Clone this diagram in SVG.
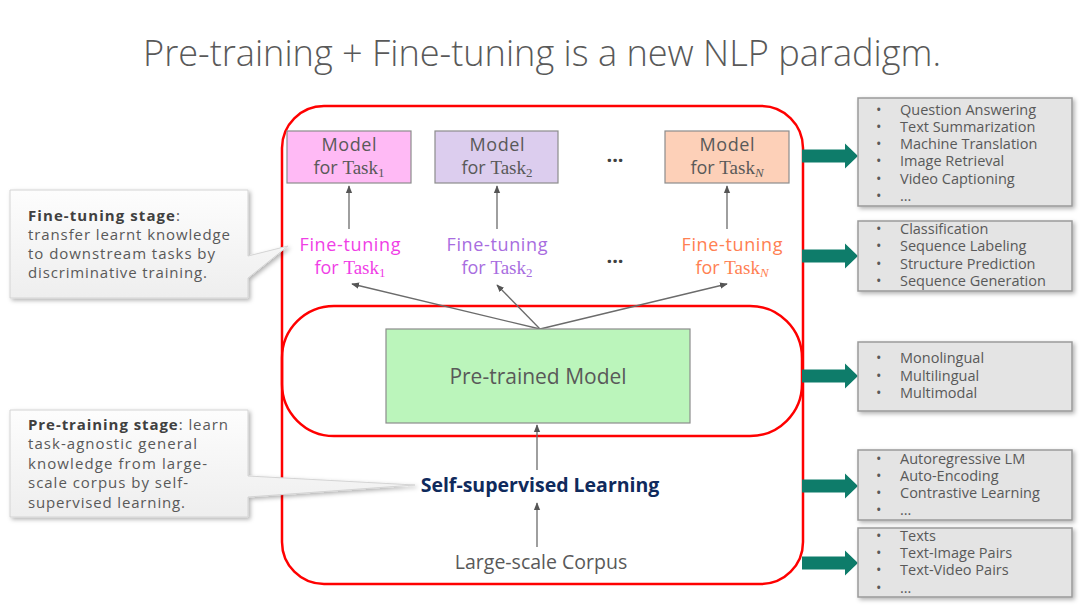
<svg xmlns="http://www.w3.org/2000/svg" width="1080" height="605" viewBox="0 0 1080 605">
<defs>
<style>
.t{font-family:"Open Sans","Noto Sans",sans-serif;fill:#595959}
.title{font-family:"Open Sans","Noto Sans",sans-serif;font-weight:300;font-size:36px;fill:#595959}
.mt{font-size:18px;text-anchor:middle}
.sr{font-family:"Liberation Serif",serif;font-size:19px}
.sub{font-family:"Liberation Serif",serif;font-size:13px}
.ft{font-size:18px;text-anchor:middle}
.li{font-size:14.5px}
.co{font-size:15px}
.red{fill:none;stroke:#ff0000;stroke-width:2.5}
.mbox{stroke:#8c8c8c;stroke-width:1.2}
.conn{stroke:#6b6b6b;stroke-width:1.3;fill:none}
.rbox{fill:#e4e4e4;stroke:#9a9a9a;stroke-width:1.5}
.dots{font-family:"Open Sans",sans-serif;font-size:20px;font-weight:bold;fill:#404040;text-anchor:middle}
</style>
<marker id="ah" viewBox="0 0 10 10" refX="9" refY="5" markerWidth="6" markerHeight="6" orient="auto">
<path d="M0,1 L10,5 L0,9 z" fill="#555"/>
</marker>
<g id="garrow">
<path d="M0,-6.5 L43,-6.5 L43,-12.5 L56,0 L43,12.5 L43,6.5 L0,6.5 z" fill="#0e7c6a"/>
</g>
<filter id="sh" x="-10%" y="-10%" width="125%" height="130%">
<feDropShadow dx="2" dy="2" stdDeviation="2" flood-color="#000" flood-opacity="0.3"/>
</filter>
<linearGradient id="cg" x1="0" y1="0" x2="0" y2="1">
<stop offset="0" stop-color="#fdfdfd"/>
<stop offset="1" stop-color="#eeeeee"/>
</linearGradient>
</defs>
<rect width="1080" height="605" fill="#ffffff"/>
<text class="title" x="542" y="66" text-anchor="middle" textLength="798" lengthAdjust="spacingAndGlyphs">Pre-training + Fine-tuning is a new NLP paradigm.</text>

<g id="outer-frame"><rect class="red" x="282" y="106" width="521" height="478" rx="42"/></g>
<g id="pretrain-frame"><rect class="red" x="282" y="306" width="520" height="130" rx="52"/></g>

<g id="connectors">
<line class="conn" x1="349" y1="229" x2="349" y2="186" marker-end="url(#ah)"/>
<line class="conn" x1="497" y1="229" x2="497" y2="186" marker-end="url(#ah)"/>
<line class="conn" x1="727" y1="229" x2="727" y2="186" marker-end="url(#ah)"/>
<line class="conn" x1="540" y1="329" x2="352" y2="284" marker-end="url(#ah)"/>
<line class="conn" x1="540" y1="329" x2="497" y2="285" marker-end="url(#ah)"/>
<line class="conn" x1="540" y1="329" x2="727" y2="284" marker-end="url(#ah)"/>
<line class="conn" x1="537" y1="470" x2="537" y2="425" marker-end="url(#ah)"/>
<line class="conn" x1="537" y1="547" x2="537" y2="503" marker-end="url(#ah)"/>
<use href="#garrow" x="802" y="156"/>
<use href="#garrow" x="802" y="256"/>
<use href="#garrow" x="802" y="376"/>
<use href="#garrow" x="802" y="486"/>
<use href="#garrow" x="802" y="563"/>
</g>

<g id="model-task1">
<rect class="mbox" x="287" y="131" width="124" height="52" fill="#ffbaf5"/>
<text class="t mt" x="349" y="151" textLength="55" lengthAdjust="spacing">Model</text>
<text class="t mt" x="349" y="174">for <tspan class="sr">Task</tspan><tspan class="sub" dy="3">1</tspan></text>
</g>
<g id="model-task2">
<rect class="mbox" x="435" y="131" width="123" height="52" fill="#dccdee"/>
<text class="t mt" x="497" y="151" textLength="55" lengthAdjust="spacing">Model</text>
<text class="t mt" x="497" y="174">for <tspan class="sr">Task</tspan><tspan class="sub" dy="3">2</tspan></text>
</g>
<text class="dots" x="615" y="167">···</text>
<g id="model-taskN">
<rect class="mbox" x="665" y="131" width="124" height="52" fill="#fdd0b8"/>
<text class="t mt" x="727" y="151" textLength="55" lengthAdjust="spacing">Model</text>
<text class="t mt" x="727" y="174">for <tspan class="sr">Task</tspan><tspan class="sub" dy="3" font-style="italic">N</tspan></text>
</g>

<g id="ft-task1">
<text class="t ft" x="350" y="251" textLength="101" lengthAdjust="spacing" style="fill:#f03ee6">Fine-tuning</text>
<text class="t ft" x="350" y="274" style="fill:#f03ee6">for <tspan class="sr">Task</tspan><tspan class="sub" dy="3">1</tspan></text>
</g>
<g id="ft-task2">
<text class="t ft" x="497" y="251" textLength="101" lengthAdjust="spacing" style="fill:#a86de0">Fine-tuning</text>
<text class="t ft" x="497" y="274" style="fill:#a86de0">for <tspan class="sr">Task</tspan><tspan class="sub" dy="3">2</tspan></text>
</g>
<text class="dots" x="615" y="268">···</text>
<g id="ft-taskN">
<text class="t ft" x="732" y="251" textLength="101" lengthAdjust="spacing" style="fill:#ff8052">Fine-tuning</text>
<text class="t ft" x="732" y="274" style="fill:#ff8052">for <tspan class="sr">Task</tspan><tspan class="sub" dy="3" font-style="italic">N</tspan></text>
</g>

<g id="pretrained-model">
<rect class="mbox" x="386" y="329" width="304" height="94" fill="#bbf5bb"/>
<text class="t" x="538" y="384" font-size="21" text-anchor="middle">Pre-trained Model</text>
</g>
<g id="self-supervised">
<text x="540" y="492" font-family="'Open Sans','Noto Sans',sans-serif" font-weight="bold" font-size="19.5" fill="#0f2a5c" text-anchor="middle">Self-supervised Learning</text>
</g>
<g id="corpus">
<text class="t" x="541" y="569" font-size="19.5" text-anchor="middle">Large-scale Corpus</text>
</g>

<g id="callout-finetune">
<path d="M10,190 L248,190 L248,256 L288,246 L248,278 L248,298 L10,298 z" fill="url(#cg)" stroke="#d4d4d4" stroke-width="1" filter="url(#sh)"/>
<text class="t co" x="28" y="221" textLength="152" lengthAdjust="spacing"><tspan font-weight="bold" fill="#404040">Fine-tuning stage</tspan>:</text>
<text class="t co" x="28" y="240" textLength="202" lengthAdjust="spacing">transfer learnt knowledge</text>
<text class="t co" x="28" y="259" textLength="187" lengthAdjust="spacing">to downstream tasks by</text>
<text class="t co" x="28" y="278" textLength="179" lengthAdjust="spacing">discriminative training.</text>
</g>
<g id="callout-pretrain">
<path d="M10,410 L248,410 L248,476 L415,485 L248,497 L248,517 L10,517 z" fill="url(#cg)" stroke="#d4d4d4" stroke-width="1" filter="url(#sh)"/>
<text class="t co" x="28" y="430" textLength="200" lengthAdjust="spacing"><tspan font-weight="bold" fill="#404040">Pre-training stage</tspan>: learn</text>
<text class="t co" x="28" y="449" textLength="169" lengthAdjust="spacing">task-agnostic general</text>
<text class="t co" x="28" y="469" textLength="179" lengthAdjust="spacing">knowledge from large-</text>
<text class="t co" x="28" y="488" textLength="160" lengthAdjust="spacing">scale corpus by self-</text>
<text class="t co" x="28" y="508" textLength="157" lengthAdjust="spacing">supervised learning.</text>
</g>

<g id="list-tasks">
<rect class="rbox" x="858" y="98" width="214" height="108" filter="url(#sh)"/>
<g class="t li">
<text x="876" y="115">•</text><text x="900" y="115">Question Answering</text>
<text x="876" y="132">•</text><text x="900" y="132">Text Summarization</text>
<text x="876" y="149">•</text><text x="900" y="149">Machine Translation</text>
<text x="876" y="166">•</text><text x="900" y="166">Image Retrieval</text>
<text x="876" y="184">•</text><text x="900" y="184">Video Captioning</text>
<text x="876" y="201">•</text><text x="900" y="201">…</text>
</g>
</g>
<g id="list-types">
<rect class="rbox" x="858" y="221" width="214" height="70" filter="url(#sh)"/>
<g class="t li">
<text x="876" y="234">•</text><text x="900" y="234">Classification</text>
<text x="876" y="251">•</text><text x="900" y="251">Sequence Labeling</text>
<text x="876" y="269">•</text><text x="900" y="269">Structure Prediction</text>
<text x="876" y="286">•</text><text x="900" y="286">Sequence Generation</text>
</g>
</g>
<g id="list-lang">
<rect class="rbox" x="858" y="342" width="214" height="69" filter="url(#sh)"/>
<g class="t li">
<text x="876" y="363">•</text><text x="900" y="363">Monolingual</text>
<text x="876" y="381">•</text><text x="900" y="381">Multilingual</text>
<text x="876" y="398">•</text><text x="900" y="398">Multimodal</text>
</g>
</g>
<g id="list-ssl">
<rect class="rbox" x="858" y="450" width="214" height="70" filter="url(#sh)"/>
<g class="t li">
<text x="876" y="464">•</text><text x="900" y="464">Autoregressive LM</text>
<text x="876" y="481">•</text><text x="900" y="481">Auto-Encoding</text>
<text x="876" y="498">•</text><text x="900" y="498">Contrastive Learning</text>
<text x="876" y="515">•</text><text x="900" y="515">…</text>
</g>
</g>
<g id="list-corpus">
<rect class="rbox" x="858" y="528" width="214" height="69" filter="url(#sh)"/>
<g class="t li">
<text x="876" y="541">•</text><text x="900" y="541">Texts</text>
<text x="876" y="558">•</text><text x="900" y="558">Text-Image Pairs</text>
<text x="876" y="575">•</text><text x="900" y="575">Text-Video Pairs</text>
<text x="876" y="593">•</text><text x="900" y="593">…</text>
</g>
</g>
</svg>
